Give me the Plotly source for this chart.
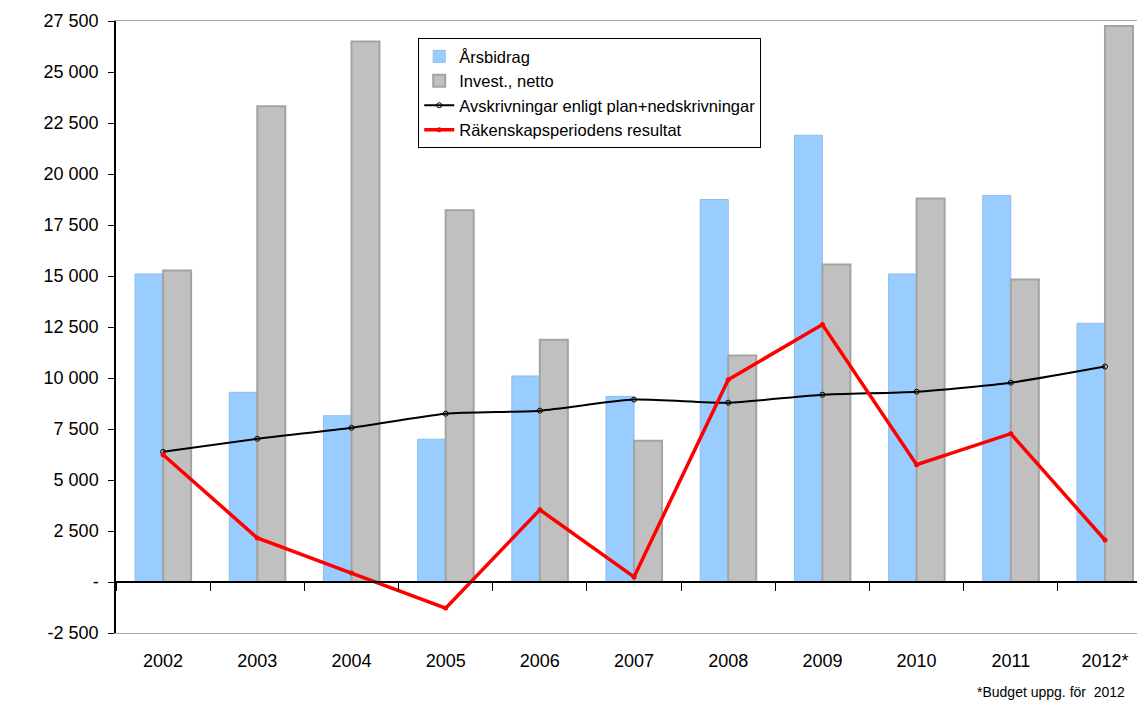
import plotly.graph_objects as go

years = ["2002", "2003", "2004", "2005", "2006", "2007", "2008", "2009", "2010", "2011", "2012*"]
arsbidrag = [15100, 9300, 8150, 7000, 10100, 9100, 18750, 21900, 15100, 18950, 12680]
invest_netto = [15270, 23320, 26500, 18220, 11880, 6930, 11100, 15560, 18800, 14830, 27250]
avskrivningar = [6380, 7020, 7560, 8250, 8400, 8940, 8790, 9180, 9330, 9770, 10560]
resultat = [6240, 2160, 440, -1280, 3540, 250, 9920, 12620, 5750, 7270, 2060]

y_tickvals = [-2500, 0, 2500, 5000, 7500, 10000, 12500, 15000, 17500, 20000, 22500, 25000, 27500]
y_ticktext = ["-2 500", "-", "2 500", "5 000", "7 500", "10 000", "12 500", "15 000",
              "17 500", "20 000", "22 500", "25 000", "27 500"]
footnote = "*Budget uppg. för  2012"

FONT = "Liberation Sans, Arial, sans-serif"

fig = go.Figure()
fig.add_trace(go.Bar(x=years, y=arsbidrag, name="Årsbidrag",
                     marker=dict(color="#99CCFF", line=dict(color="#8FBDEB", width=1))))
fig.add_trace(go.Bar(x=years, y=invest_netto, name="Invest., netto",
                     marker=dict(color="#C0C0C0", line=dict(color="#A3A3A3", width=2))))
fig.add_trace(go.Scatter(x=years, y=avskrivningar, name="Avskrivningar enligt plan+nedskrivningar",
                         mode="lines+markers", line=dict(color="#000000", width=2, shape="spline", smoothing=0.6),
                         marker=dict(symbol="circle-open", size=5, color="#000000", line=dict(width=1))))
fig.add_trace(go.Scatter(x=years, y=resultat, name="Räkenskapsperiodens resultat",
                         mode="lines+markers", line=dict(color="#FF0000", width=3.5),
                         marker=dict(symbol="circle", size=5, color="#FF0000")))
# invisible helper trace so the zero-crossing category axis is drawn
fig.add_trace(go.Scatter(x=years, y=resultat, xaxis="x2", mode="lines", opacity=0,
                         showlegend=False, hoverinfo="skip"))

xr = [-0.5, 10.34]
fig.update_layout(
    width=1137, height=702,
    margin=dict(l=116, r=0, t=21, b=69),
    paper_bgcolor="white", plot_bgcolor="white",
    font=dict(family=FONT, color="#000000"),
    barmode="group", bargap=0.405, bargroupgap=0,
    showlegend=True,
    legend=dict(x=0.296, y=0.972, xanchor="left", yanchor="top",
                bgcolor="white", bordercolor="#000000", borderwidth=1,
                font=dict(family=FONT, size=16.5, color="#000000"),
                tracegroupgap=0, itemwidth=30),
    xaxis=dict(type="category", categoryarray=years, range=xr,
               showline=True, linecolor="#A6A6A6", linewidth=1, mirror=True,
               ticks="outside", ticklen=11, tickcolor="rgba(0,0,0,0)",
               tickfont=dict(family=FONT, size=18, color="#000000"),
               showgrid=False, zeroline=False),
    xaxis2=dict(type="category", categoryarray=years, range=xr, overlaying="x",
                anchor="free", position=2500 / 30000, side="bottom",
                showline=True, linecolor="#000000", linewidth=1.5,
                ticks="outside", ticklen=8, tickcolor="#000000", tickwidth=1,
                tickson="boundaries", showticklabels=False, showgrid=False, zeroline=False),
    yaxis=dict(range=[-2500, 27500], tickvals=y_tickvals, ticktext=y_ticktext,
               showline=True, linecolor="#000000", linewidth=1.5,
               ticks="outside", ticklen=6, tickcolor="#000000",
               tickfont=dict(family=FONT, size=18, color="#000000"),
               ticklabelstandoff=6,
               showgrid=False, zeroline=False),
    annotations=[dict(text=footnote, xref="paper", yref="paper", x=0.99, y=-0.08,
                      xanchor="right", yanchor="top", showarrow=False,
                      font=dict(family=FONT, size=14, color="#000000"))],
)

fig.write_html("out.html", config={"displayModeBar": False},
               post_script="document.body.style.margin='0px';document.body.style.overflow='hidden';")
